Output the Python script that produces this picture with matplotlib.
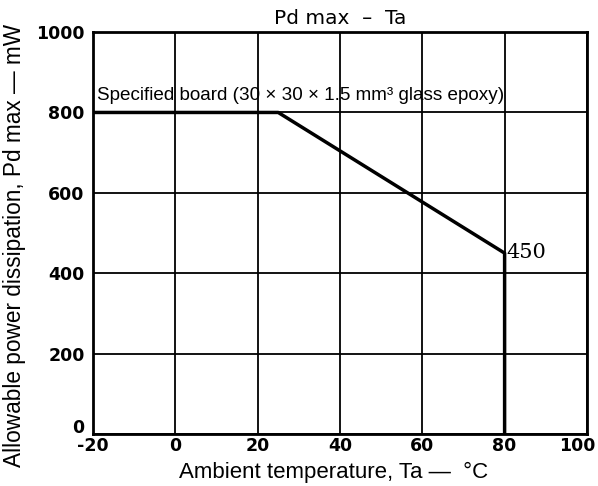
import numpy as np
import matplotlib
matplotlib.use('Agg')
import matplotlib.pyplot as plt
import matplotlib.transforms as mtransforms

# derating curve
ta = [-20, 25, 80, 80]
pd_max = [800, 800, 450, 0]

xticks = [-20, 0, 20, 40, 60, 80, 100]
xticklabels = ['-20', '0', '20', '40', '60', '80', '100']
yticks = [0, 200, 400, 600, 800, 1000]
yticklabels = ['0', '200', '400', '600', '800', '1000']

fig = plt.figure(figsize=(5.98, 4.86), dpi=100)
ax = fig.add_axes([0.1555, 0.107, 0.826, 0.827])

ax.plot(ta, pd_max, color='k', lw=2.5, solid_capstyle='butt')
ax.set_xlim(-20, 100)
ax.set_ylim(0, 1000)
ax.set_xticks(xticks)
ax.set_xticklabels(xticklabels)
ax.set_yticks(yticks)
ax.set_yticklabels(yticklabels)
ax.grid(True, color='k', lw=1.3)
ax.tick_params(length=0)
ax.tick_params(axis='y', pad=6)
ax.tick_params(axis='x', pad=2)
for s in ax.spines.values():
    s.set_linewidth(2)
for lab in ax.get_xticklabels() + ax.get_yticklabels():
    lab.set_fontweight('bold')
    lab.set_fontsize(12.5)
    lab.set_family('DejaVu Sans')
# lift the y "0" label a bit, pull the "100" label inside the figure
ylab0 = ax.get_yticklabels()[0]
ylab0.set_transform(ylab0.get_transform() + mtransforms.ScaledTranslation(0, 6/72, fig.dpi_scale_trans))
xlab100 = ax.get_xticklabels()[-1]
xlab100.set_transform(xlab100.get_transform() + mtransforms.ScaledTranslation(-7/72, 0, fig.dpi_scale_trans))

ax.text(-19, 822, 'Specified board (30 \u00d7 30 \u00d7 1.5 mm\u00b3 glass epoxy)',
        family='Liberation Sans', fontsize=13.6, va='bottom', ha='left')
ax.text(80.5, 452, '450', family='DejaVu Serif', fontsize=15, va='center', ha='left')

ax.set_title('Pd max  \u2013  Ta', family='DejaVu Sans', fontsize=14.5, pad=6)
ax.set_xlabel('Ambient temperature, Ta \u2014  \u00b0C', family='Liberation Sans', fontsize=16)
ax.set_ylabel('Allowable power dissipation, Pd max \u2014 mW', family='Liberation Sans', fontsize=16.3)
ax.xaxis.set_label_coords(0.488, -0.07)
ax.yaxis.set_label_coords(-0.136, 0.47)

fig.savefig('out.png', dpi=100)
